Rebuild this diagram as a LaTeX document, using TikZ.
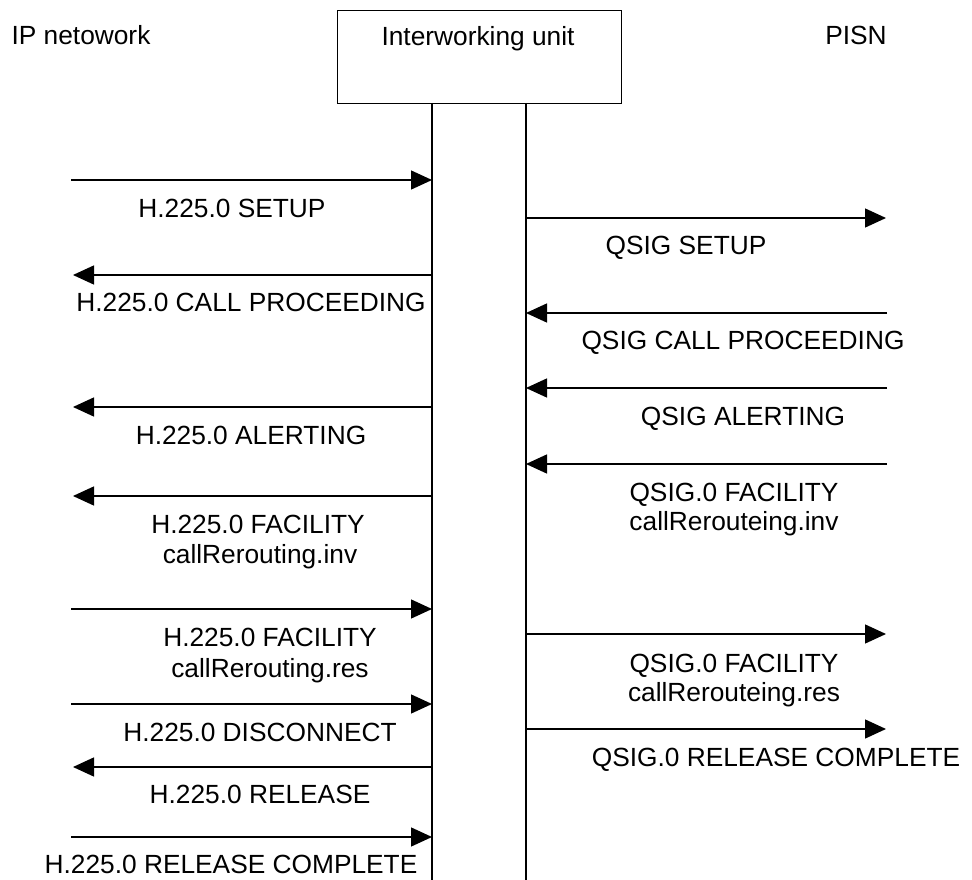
\documentclass[tikz,border=0pt]{standalone}
\usepackage{fontspec}
\setmainfont{Liberation Sans}
\usetikzlibrary{arrows.meta}

\begin{document}
\begin{tikzpicture}[
    x=1pt, y=-1pt,
    >={Triangle[length=21pt, width=19pt]},
    every node/.style={font=\fontsize{26.3}{30}\selectfont, inner sep=0pt},
    lbl/.style={anchor=base},
    unitbox/.style={draw, line width=1.4pt, minimum width=284pt, minimum height=93pt, anchor=north west},
    life/.style={line width=1.4pt},
    msg/.style={->, line width=1.4pt},
]
\useasboundingbox (0,0) rectangle (972,880);

% entities
\node[lbl] (ipnet) at (81,45) {IP netowork};
\node[unitbox] (iwu) at (337,10) {};
\node[lbl] (iwutext) at (478,46) {Interworking unit};
\node[lbl] (pisn) at (856,45) {PISN};

% lifelines
\coordinate (ipl) at (432,103);
\coordinate (ipl end) at (432,880);
\coordinate (qsl) at (526,103);
\coordinate (qsl end) at (526,880);
\draw[life] (ipl) -- (ipl end);
\draw[life] (qsl) -- (qsl end);

% free ends of the messages
\coordinate (m1) at (71,180);
\coordinate (m2) at (886,218);
\coordinate (m3) at (73,275);
\coordinate (m4) at (887,313);
\coordinate (m5) at (887,388);
\coordinate (m6) at (73,407);
\coordinate (m7) at (887,464);
\coordinate (m8) at (73,496);
\coordinate (m9) at (71,609);
\coordinate (m10) at (886,634);
\coordinate (m11) at (71,704);
\coordinate (m12) at (886,729);
\coordinate (m13) at (73,767);
\coordinate (m14) at (71,837);

\draw[msg] (m1) -- (m1 -| ipl);
\draw[msg] (m2 -| qsl) -- (m2);
\draw[msg] (m3 -| ipl) -- (m3);
\draw[msg] (m4) -- (m4 -| qsl);
\draw[msg] (m5) -- (m5 -| qsl);
\draw[msg] (m6 -| ipl) -- (m6);
\draw[msg] (m7) -- (m7 -| qsl);
\draw[msg] (m8 -| ipl) -- (m8);
\draw[msg] (m9) -- (m9 -| ipl);
\draw[msg] (m10 -| qsl) -- (m10);
\draw[msg] (m11) -- (m11 -| ipl);
\draw[msg] (m12 -| qsl) -- (m12);
\draw[msg] (m13 -| ipl) -- (m13);
\draw[msg] (m14) -- (m14 -| ipl);

% message labels
\node[lbl] (l1) at (232,217) {H.225.0 SETUP};
\node[lbl] (l2) at (686,254) {QSIG SETUP};
\node[lbl] (l3) at (251,311) {H.225.0 CALL PROCEEDING};
\node[lbl] (l4) at (743,349) {QSIG CALL PROCEEDING};
\node[lbl] (l5) at (743,425) {QSIG ALERTING};
\node[lbl] (l6) at (251,444) {H.225.0 ALERTING};
\node[lbl] (l7a) at (734,501) {QSIG.0 FACILITY};
\node[lbl] (l7b) at (734,530) {callRerouteing.inv};
\node[lbl] (l8a) at (258,533) {H.225.0 FACILITY};
\node[lbl] (l8b) at (260,563) {callRerouting.inv};
\node[lbl] (l9a) at (270,646) {H.225.0 FACILITY};
\node[lbl] (l9b) at (270,677) {callRerouting.res};
\node[lbl] (l10a) at (734,672) {QSIG.0 FACILITY};
\node[lbl] (l10b) at (734,701) {callRerouteing.res};
\node[lbl] (l11) at (260,741) {H.225.0 DISCONNECT};
\node[lbl] (l12) at (776,766) {QSIG.0 RELEASE COMPLETE};
\node[lbl] (l13) at (260,803) {H.225.0 RELEASE};
\node[lbl] (l14) at (231,873) {H.225.0 RELEASE COMPLETE};
\end{tikzpicture}
\end{document}
